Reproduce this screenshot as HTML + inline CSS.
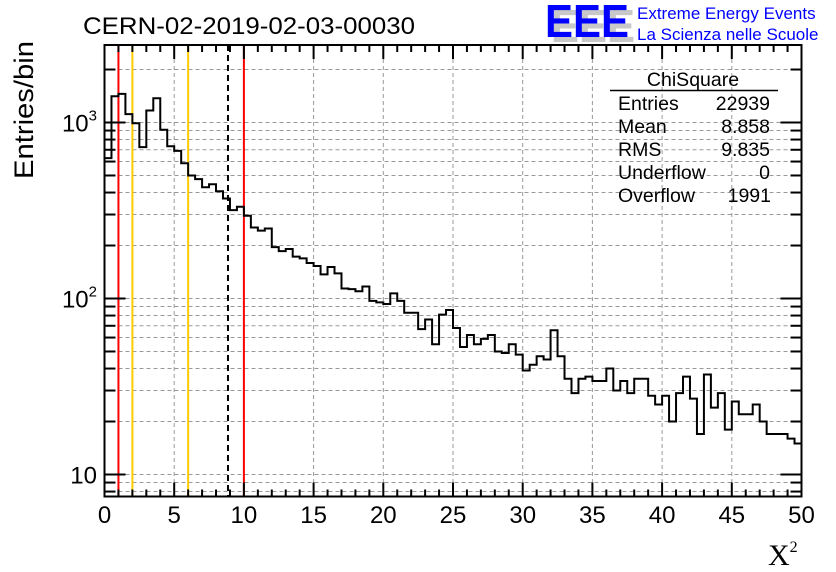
<!DOCTYPE html>
<html><head><meta charset="utf-8"><style>
html,body{margin:0;padding:0;background:#fff;}
svg{display:block;font-family:"Liberation Sans",sans-serif;}
</style></head><body>
<svg id="chart" width="836" height="572" viewBox="0 0 836 572" xmlns="http://www.w3.org/2000/svg">
<rect x="0" y="0" width="836" height="572" fill="#fff"/>
<g id="grid"></g>
<g id="lines"></g>
<g id="hist"></g>
<g id="axes"></g>
<text x="83" y="34" font-size="24" textLength="332" lengthAdjust="spacingAndGlyphs">CERN-02-2019-02-03-00030</text>
<text transform="translate(33,110) rotate(-90)" text-anchor="middle" font-size="27" textLength="138" lengthAdjust="spacingAndGlyphs">Entries/bin</text>
<text x="768" y="565" font-size="30" font-family="Liberation Serif, serif">X<tspan font-size="16" dy="-13">2</tspan></text>
<g>
<text x="551" y="42" font-size="46" font-weight="bold" fill="#c8c8c8" textLength="84" lengthAdjust="spacingAndGlyphs">EEE</text>
<text x="545" y="37" font-size="46" font-weight="bold" fill="#0000ff" textLength="84" lengthAdjust="spacingAndGlyphs">EEE</text>
<text x="637" y="19" font-size="17" fill="#0000ff">Extreme Energy Events</text>
<text x="637" y="40" font-size="17" fill="#0000ff">La Scienza nelle Scuole</text>
</g>
<g font-size="19.5">
<text x="693" y="86" text-anchor="middle">ChiSquare</text>
<line x1="610" y1="90.5" x2="778" y2="90.5" stroke="#000" stroke-width="1.5"/>
<text x="618" y="110">Entries</text><text x="770" y="110" text-anchor="end">22939</text>
<text x="618" y="133">Mean</text><text x="770" y="133" text-anchor="end">8.858</text>
<text x="618" y="156">RMS</text><text x="770" y="156" text-anchor="end">9.835</text>
<text x="618" y="179">Underflow</text><text x="770" y="179" text-anchor="end">0</text>
<text x="618" y="202">Overflow</text><text x="771" y="202" text-anchor="end">1991</text>
</g>
</svg>
<script>
const counts = [627,1410,1455,1115,991,724,1170,1373,909,733,690,587,500,477,429,446,407,370,318,332,
295,253,243,250,196,186,191,173,169,159,153,137,151,139,114,113,110,117,97,95,
93,107,97,83,83,67,76,55,81,86,68,53,62,55,59,62,50,49,55,48,
39,42,47,45,66,47,35,29,35,36,34,34,40,30,34,29,35,35,28,25,
28,20,29,36,27,17,37,24,29,18,26,22,22,25,20,17,17,17,16,15];
const binWidth = 0.5;
const xTicks = [0,5,10,15,20,25,30,35,40,45,50];
const yTicks = [10,100,1000];
const cutLinesRed = [1,10];
const cutLinesOrange = [2,6];
const meanValue = 8.858;

const X0=104.5,X1=801.5,YT=45,YB=496.5;
const xs = v => X0 + (v/50)*(X1-X0);
const ys = v => 474.5 - (Math.log10(v)-1)*176;
const NS='http://www.w3.org/2000/svg';
function mk(tag,parent){const e=document.createElementNS(NS,tag);parent.appendChild(e);return e;}
const grid=document.getElementById('grid'),axes=document.getElementById('axes'),hist=document.getElementById('hist'),lines=document.getElementById('lines');

for(let v=5;v<50;v+=5){const l=mk('line',grid);


l.setAttribute('x1',xs(v));l.setAttribute('x2',xs(v));l.setAttribute('y1',YT);l.setAttribute('y2',YB);
l.setAttribute('stroke','#999');l.setAttribute('stroke-dasharray','4,3');}
const minorY=[];
for(let d=1;d<=1000;d*=10)for(let m=1;m<10;m++){const v=d*m;const y=ys(v);if(y>YT&&y<YB)minorY.push(v);}
minorY.forEach(v=>{const l=mk('line',grid);


l.setAttribute('x1',X0);l.setAttribute('x2',X1);l.setAttribute('y1',ys(v));l.setAttribute('y2',ys(v));
l.setAttribute('stroke','#999');l.setAttribute('stroke-dasharray','4,3');});

function vline(v,color,dash,name){const l=mk('line',lines);


l.setAttribute('x1',xs(v));l.setAttribute('x2',xs(v));l.setAttribute('y1',YT);l.setAttribute('y2',YB);
l.setAttribute('stroke',color);l.setAttribute('stroke-width','2');if(dash)l.setAttribute('stroke-dasharray',dash);}
cutLinesRed.forEach(v=>vline(v,'#ff0000',null,'red-cut-line'));
cutLinesOrange.forEach(v=>vline(v,'#ffcc00',null,'orange-cut-line'));
vline(meanValue,'#000','6,4','mean-line');

let d='M'+xs(0)+','+YB;
counts.forEach((c,i)=>{const y=ys(c);d+=' L'+xs(i*binWidth)+','+y+' L'+xs((i+1)*binWidth)+','+y;});
const p=mk('path',hist);


p.setAttribute('d',d);p.setAttribute('fill','none');p.setAttribute('stroke','#000');p.setAttribute('stroke-width','2');

const fr=mk('rect',axes);


fr.setAttribute('x',X0);fr.setAttribute('y',YT);fr.setAttribute('width',X1-X0);fr.setAttribute('height',YB-YT);
fr.setAttribute('fill','none');fr.setAttribute('stroke','#000');fr.setAttribute('stroke-width','2');
function tick(x1,y1,x2,y2){const l=mk('line',axes);


l.setAttribute('x1',x1);l.setAttribute('y1',y1);l.setAttribute('x2',x2);l.setAttribute('y2',y2);l.setAttribute('stroke','#000');l.setAttribute('stroke-width','2');}
for(let v=1;v<50;v++){const L=(v%5===0)?14:7;const x=xs(v);tick(x,YB,x,YB-L);tick(x,YT,x,YT+L);}
minorY.forEach(v=>{const major=yTicks.includes(v);const L=major?21:11;const y=ys(v);tick(X0,y,X0+L,y);tick(X1,y,X1-L,y);});
xTicks.forEach(v=>{const t=mk('text',axes);


t.setAttribute('x',xs(v));t.setAttribute('y',523);t.setAttribute('text-anchor','middle');t.setAttribute('font-size','24');t.textContent=v;});
yTicks.forEach((v,i)=>{const t=mk('text',axes);


t.setAttribute('x',97);t.setAttribute('y',ys(v)+9);t.setAttribute('text-anchor','end');t.setAttribute('font-size','24');
t.textContent='10';if(i>0){const s=mk('tspan',t);s.setAttribute('font-size','15');s.setAttribute('dy','-11');s.textContent=String(i+1);}});
</script>
</body></html>
